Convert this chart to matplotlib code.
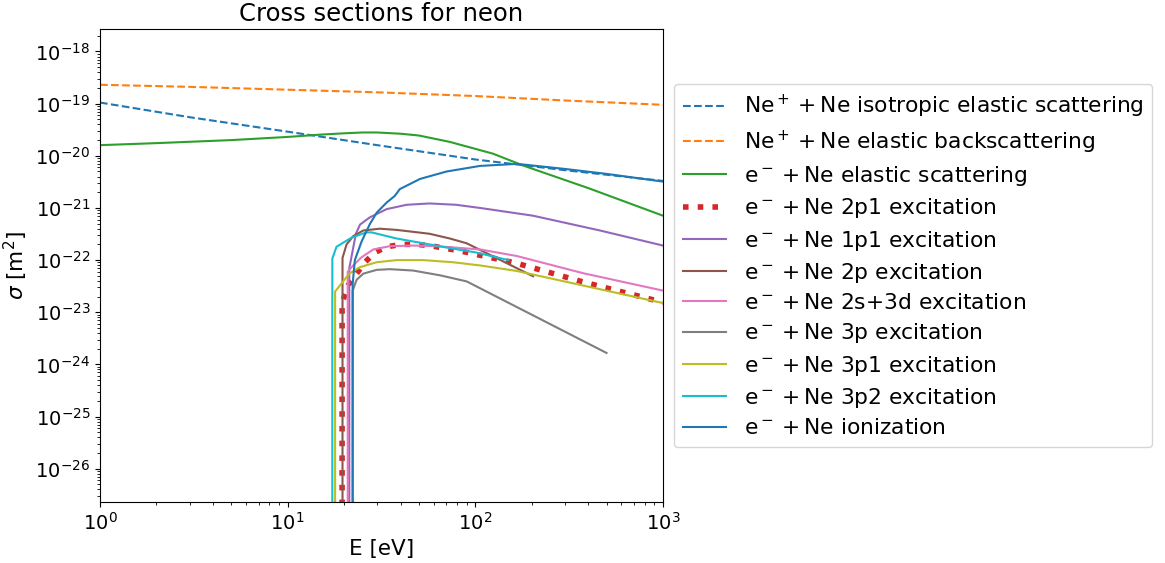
import numpy as np
import matplotlib
matplotlib.use('Agg')
import matplotlib.pyplot as plt

plt.rcParams['font.size'] = 15.5

# Ne+ + Ne heavy-particle cross sections
E_iso = [1, 3, 10, 30, 100, 300, 1000]
sig_iso = [1.05e-19, 5.5e-20, 2.9e-20, 1.6e-20, 8.5e-21, 5.3e-21, 3.3e-21]

E_back = [1, 3, 10, 30, 100, 300, 1000]
sig_back = [2.3e-19, 2.1e-19, 1.85e-19, 1.65e-19, 1.4e-19, 1.15e-19, 9.5e-20]

# electron cross sections (0 at threshold)
E_el = [1, 2, 5, 10, 15, 20, 25, 30, 40, 50, 73, 124, 180, 400, 1000]
sig_el = [1.6e-20, 1.75e-20, 2.0e-20, 2.3e-20, 2.55e-20, 2.7e-20, 2.8e-20, 2.8e-20,
          2.65e-20, 2.45e-20, 1.85e-20, 1.1e-20, 6.5e-21, 2.4e-21, 7.1e-22]

E_2p1 = [19.3, 19.5, 21.0, 23.3, 25.8, 29.2, 33.7, 40.4, 48.6, 57, 83, 166, 376, 1000]
sig_2p1 = [0, 1.5e-23, 3.3e-23, 5.5e-23, 9.1e-23, 1.4e-22, 1.8e-22, 2.0e-22, 2.0e-22,
           1.9e-22, 1.5e-22, 8.7e-23, 3.8e-23, 1.55e-23]

E_1p1 = [21.1, 21.3, 23.1, 24.3, 27.4, 33.7, 43, 57, 79, 106, 203, 461, 1000]
sig_1p1 = [0, 7e-23, 3.2e-22, 4.8e-22, 6.6e-22, 9.5e-22, 1.15e-21, 1.22e-21, 1.15e-21,
           1.0e-21, 7.1e-22, 3.7e-22, 1.9e-22]

E_2p = [19.5, 19.6, 20.6, 22.4, 25.3, 31, 38, 57, 73, 90, 203]
sig_2p = [0, 1.1e-22, 2.0e-22, 2.9e-22, 3.7e-22, 4.0e-22, 3.8e-22, 3.2e-22, 2.6e-22,
          2.1e-22, 4.9e-23]

E_2s3d = [20.8, 20.9, 22.4, 24.8, 28.6, 35, 46.7, 62, 106, 166, 376, 1000]
sig_2s3d = [0, 6e-23, 8e-23, 1.14e-22, 1.6e-22, 1.85e-22, 1.9e-22, 1.85e-22, 1.6e-22,
            1.2e-22, 5.6e-23, 2.6e-23]

E_3p = [22.1, 22.2, 23.3, 25.3, 29.8, 35, 46.7, 65, 90, 500]
sig_3p = [0, 2.6e-23, 4.2e-23, 5.5e-23, 6.5e-23, 6.7e-23, 6.3e-23, 5.1e-23, 3.9e-23, 1.66e-24]

E_3p1 = [17.8, 17.9, 19.4, 21.3, 24.2, 29.8, 38, 52.7, 76, 106, 166, 1000]
sig_3p1 = [0, 2.5e-23, 3.6e-23, 5.5e-23, 7.3e-23, 9.1e-23, 1.0e-22, 1.0e-22, 9.1e-23,
           7.9e-23, 6.2e-23, 1.5e-23]

E_3p2 = [17.2, 17.3, 18.2, 21.9, 26.3, 28, 38, 57, 73, 101, 150]
sig_3p2 = [0, 1.07e-22, 1.8e-22, 2.7e-22, 3.4e-22, 3.4e-22, 2.6e-22, 2.0e-22, 1.7e-22,
           1.4e-22, 1.0e-22]

E_ion = [22.1, 22.2, 22.8, 24.8, 27.4, 29.8, 33.7, 37.2, 39.6, 50.7, 70.3, 106, 167,
         300, 500, 1000]
sig_ion = [0, 3.5e-23, 1.0e-22, 2.3e-22, 4.9e-22, 8.1e-22, 1.27e-21, 1.7e-21, 2.3e-21,
           3.6e-21, 5.0e-21, 6.4e-21, 7.0e-21, 5.6e-21, 4.5e-21, 3.2e-21]

fig = plt.figure(figsize=(11.65, 5.63), dpi=100)
ax = fig.add_axes([100 / 1165, 61 / 563, 563 / 1165, 473 / 563])

ax.plot(E_iso, sig_iso, '--', color='C0', label=r'$\mathrm{Ne}^+ + \mathrm{Ne}$ isotropic elastic scattering')
ax.plot(E_back, sig_back, '--', color='C1', label=r'$\mathrm{Ne}^+ + \mathrm{Ne}$ elastic backscattering')
ax.plot(E_el, sig_el, color='C2', label=r'$\mathrm{e}^- + \mathrm{Ne}$ elastic scattering')
ax.plot(E_2p1, sig_2p1, ':', color='C3', lw=4, label=r'$\mathrm{e}^- + \mathrm{Ne}$ 2p1 excitation')
ax.plot(E_1p1, sig_1p1, color='C4', label=r'$\mathrm{e}^- + \mathrm{Ne}$ 1p1 excitation')
ax.plot(E_2p, sig_2p, color='C5', label=r'$\mathrm{e}^- + \mathrm{Ne}$ 2p excitation')
ax.plot(E_2s3d, sig_2s3d, color='C6', label=r'$\mathrm{e}^- + \mathrm{Ne}$ 2s+3d excitation')
ax.plot(E_3p, sig_3p, color='C7', label=r'$\mathrm{e}^- + \mathrm{Ne}$ 3p excitation')
ax.plot(E_3p1, sig_3p1, color='C8', label=r'$\mathrm{e}^- + \mathrm{Ne}$ 3p1 excitation')
ax.plot(E_3p2, sig_3p2, color='C9', label=r'$\mathrm{e}^- + \mathrm{Ne}$ 3p2 excitation')
ax.plot(E_ion, sig_ion, color='C0', label=r'$\mathrm{e}^- + \mathrm{Ne}$ ionization')

ax.set_xscale('log')
ax.set_yscale('log', nonpositive='clip')
ax.set_xlim(1, 1000)
ax.set_ylim(2.3e-27, 2.7e-18)
ax.set_xlabel('E [eV]')
ax.set_ylabel(r'$\sigma$ [m$^2$]')
ax.set_title('Cross sections for neon', fontsize=17.5)
ax.tick_params(labelsize=14)
ax.yaxis.set_major_locator(matplotlib.ticker.LogLocator(base=10, numticks=20))

ax.legend(loc='center left', bbox_to_anchor=(1.0, 0.5), fontsize=15.7, labelspacing=0.38)

fig.savefig('out.png', dpi=100)
